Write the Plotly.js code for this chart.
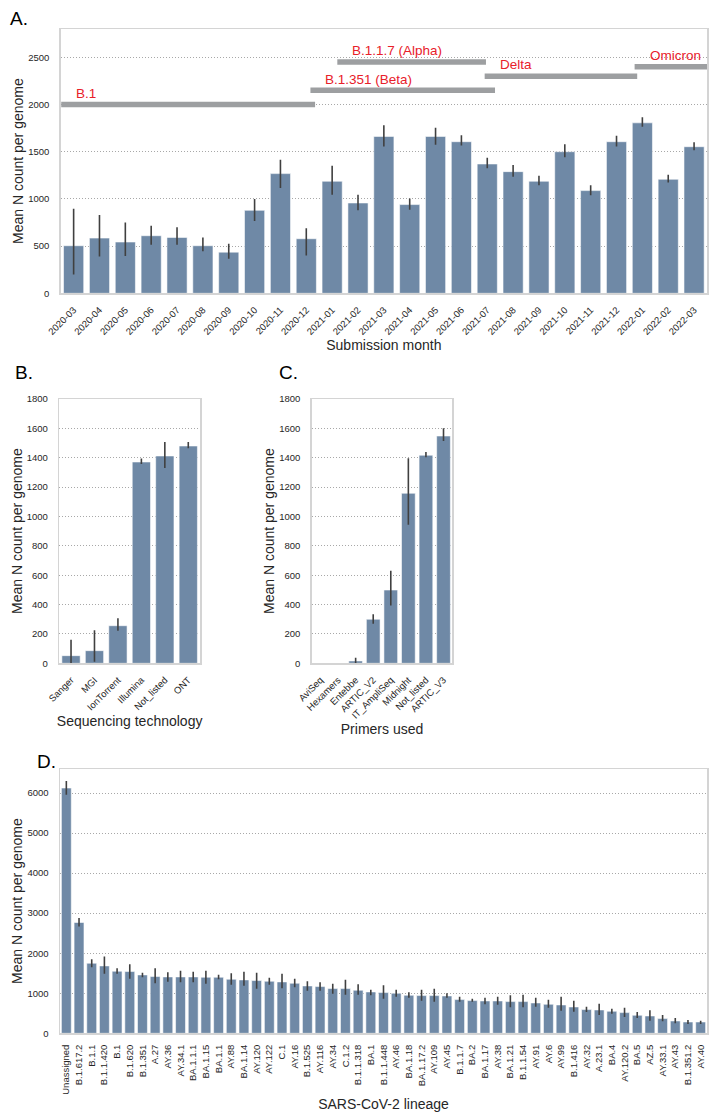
<!DOCTYPE html>
<html><head><meta charset="utf-8">
<script src="https://cdn.plot.ly/plotly-3.0.1.min.js"></script>
<style>html,body{margin:0;padding:0;background:#fff}</style>
</head><body><div id="chart" style="width:712px;height:1119px"></div>
<script>
// ---------- Panel A: submission month ----------
const months = ['2020-03','2020-04','2020-05','2020-06','2020-07','2020-08','2020-09','2020-10','2020-11','2020-12',
  '2021-01','2021-02','2021-03','2021-04','2021-05','2021-06','2021-07','2021-08','2021-09','2021-10','2021-11','2021-12',
  '2022-01','2022-02','2022-03'];
const monthMean = [504,585,543,610,592,504,436,879,1268,578,1187,957,1662,940,1662,1606,1370,1289,1187,1500,1088,1606,1806,1208,1553];
const monthLow  = [200,390,395,515,515,445,365,765,1115,400,1045,880,1555,885,1575,1565,1325,1235,1145,1440,1040,1555,1765,1175,1515];
const monthHigh = [895,830,750,715,700,590,525,1000,1415,690,1350,1045,1780,1005,1755,1675,1435,1360,1245,1580,1145,1670,1865,1255,1600];

// variant periods (in month-index units along the month axis)
const variantNames = ['B.1','B.1.351 (Beta)','B.1.1.7 (Alpha)','Delta','Omicron'];
const variantFrom  = [-0.48, 9.16, 10.2, 15.9, 21.7];
const variantTo    = [9.34, 16.3, 15.95, 21.8, 24.5];
const variantLevel = [2000, 2150, 2450, 2300, 2400];

// ---------- Panel B: sequencing technology ----------
const techs = ['Sanger','MGI','IonTorrent','Illumina','Not_listed','ONT'];
const techMean = [52,86,256,1371,1412,1480];
const techLow  = [0,10,222,1357,1330,1464];
const techHigh = [160,225,306,1394,1507,1507];

// ---------- Panel C: primers ----------
const primers = ['AviSeq','Hexamers','Entebbe','ARTIC_V2','IT_AmpliSeq','Midnight','Not_listed','ARTIC_V3'];
const primerMean = [0,0,16,300,499,1158,1417,1548];
const primerLow  = [0,0,0,270,393,944,1403,1514];
const primerHigh = [0,0,38,334,631,1396,1439,1600];

// ---------- Panel D: lineage ----------
const lineages = ['Unassigned','B.1.617.2','B.1.1','B.1.1.420','B.1','B.1.620','B.1.351','A.27','AY.36','AY.34.1',
  'BA.1.1.1','BA.1.15','BA.1.1','AY.88','BA.1.14','AY.120','AY.122','C.1','AY.16','B.1.525','AY.116','AY.34','C.1.2',
  'B.1.1.318','BA.1','B.1.1.448','AY.46','BA.1.18','BA.1.17.2','AY.109','AY.45','B.1.1.7','BA.2','BA.1.17','AY.38',
  'BA.1.21','B.1.1.54','AY.91','AY.6','AY.99','B.1.416','AY.32','A.23.1','BA.4','AY.120.2','BA.5','AZ.5','AY.33.1',
  'AY.43','B.1.351.2','AY.40'];
const lineageMean = [6125,2767,1750,1683,1550,1542,1458,1417,1408,1408,1408,1400,1400,1350,1333,1317,1300,1283,1250,1183,1167,1117,1117,
  1075,1033,1017,1000,950,942,942,933,842,817,808,808,792,792,758,725,708,658,592,583,550,517,450,433,367,308,283,283];
const lineageLow  = [5960,2670,1650,1485,1485,1360,1400,1250,1285,1275,1275,1240,1350,1210,1185,1115,1210,1125,1150,1065,1065,990,960,
  960,950,860,910,885,815,785,885,785,785,725,715,650,650,665,635,565,540,535,460,490,410,385,315,300,250,235,235];
const lineageHigh = [6300,2880,1850,1915,1625,1725,1515,1625,1525,1560,1535,1565,1465,1500,1535,1510,1390,1490,1360,1300,1275,1240,1335,
  1225,1090,1200,1085,1025,1085,1115,1000,915,865,890,910,950,960,885,835,910,810,665,735,615,635,535,575,460,385,335,315];

// ---------- styling ----------
const BAR = '#6f89a6';
const FONT = 'Liberation Sans, Arial, Helvetica, sans-serif';
const TXT = '#262626';
const W = 712, H = 1119;
const px = v => v / W, py = v => 1 - v / H;

function barTrace(x, mean, low, high, xa, ya) {
  return {
    type: 'bar', x: x, y: mean, xaxis: xa, yaxis: ya, showlegend: false,
    marker: {color: BAR, line: {color: 'rgba(255,255,255,0.7)', width: 0.8}},
    error_y: {type: 'data', symmetric: false,
      array: high.map((h, i) => h - mean[i]),
      arrayminus: mean.map((m, i) => m - low[i]),
      width: 0, thickness: 1.6, color: '#404040'}
  };
}

const traces = [
  barTrace(months.map((m, i) => i), monthMean, monthLow, monthHigh, 'x', 'y'),
  barTrace(techs, techMean, techLow, techHigh, 'x2', 'y2'),
  barTrace(primers, primerMean, primerLow, primerHigh, 'x3', 'y3'),
  barTrace(lineages, lineageMean, lineageLow, lineageHigh, 'x4', 'y4')
];
variantNames.forEach((n, i) => traces.push({
  type: 'scatter', mode: 'lines', x: [variantFrom[i], variantTo[i]], y: [variantLevel[i], variantLevel[i]],
  xaxis: 'x', yaxis: 'y', line: {color: '#9d9fa1', width: 5.5}, showlegend: false, hoverinfo: 'skip', name: n
}));

function xAxis(domain, extra) {
  return Object.assign({
    domain: domain, showline: true, mirror: true, linecolor: '#d4d4d4', linewidth: 1.5,
    showgrid: false, zeroline: false, ticks: 'outside', ticklen: 6, tickcolor: 'rgba(0,0,0,0)',
    tickfont: {family: FONT, size: 9.5, color: TXT}, tickangle: -45,
    title: {font: {family: FONT, size: 14, color: TXT}}
  }, extra);
}
function yAxis(domain, range, dtick, extra) {
  return Object.assign({
    domain: domain, range: range, dtick: dtick, showline: true, mirror: true, linecolor: '#d4d4d4', linewidth: 1.5,
    showgrid: true, gridcolor: '#a8a8a8', griddash: '1px,2px', gridwidth: 1, zeroline: false,
    ticks: 'outside', ticklen: 8, tickcolor: 'rgba(0,0,0,0)',
    tickfont: {family: FONT, size: 9.5, color: TXT},
    title: {text: 'Mean N count per genome', font: {family: FONT, size: 14, color: TXT}, standoff: 1}
  }, extra);
}

const yA = [py(293.3), py(29)], yBC = [py(663.3), py(399)], yD = [py(1033.3), py(769)];

const annotations = [];
variantNames.forEach((n, i) => annotations.push({
  xref: 'x', yref: 'y', x: variantFrom[i] + 0.5, y: variantLevel[i] + 120, text: n, showarrow: false,
  xanchor: 'left', yanchor: 'middle', font: {family: FONT, size: 13.5, color: '#e8202a'}
}));
[['A.', 8, 18], ['B.', 13, 372], ['C.', 277, 372], ['D.', 35, 761]].forEach(p => annotations.push({
  xref: 'paper', yref: 'paper', x: px(p[1]), y: py(p[2]), text: p[0], showarrow: false,
  xanchor: 'left', yanchor: 'middle', font: {family: FONT, size: 19, color: '#000'}
}));

const layout = {
  width: W, height: H, margin: {l: 0, r: 0, t: 0, b: 0},
  paper_bgcolor: '#fff', plot_bgcolor: '#fff', bargap: 0.22, showlegend: false,
  font: {family: FONT, color: TXT},
  xaxis: xAxis([px(60.7), px(707)], {range: [-0.5, 24.5], tickmode: 'array',
    tickvals: months.map((m, i) => i), ticktext: months,
    title: {text: 'Submission month', font: {family: FONT, size: 14, color: TXT}, standoff: 4}}),
  yaxis: yAxis(yA, [0, 2800], 500, {anchor: 'x'}),
  xaxis2: xAxis([px(59.3), px(200)], {anchor: 'y2', range: [-0.5, 5.5],
    title: {text: 'Sequencing technology', font: {family: FONT, size: 14, color: TXT}, standoff: 4}}),
  yaxis2: yAxis(yBC, [0, 1800], 200, {anchor: 'x2'}),
  xaxis3: xAxis([px(311.7), px(452.3)], {anchor: 'y3', range: [-0.5, 7.5],
    title: {text: 'Primers used', font: {family: FONT, size: 14, color: TXT}, standoff: 4}}),
  yaxis3: yAxis(yBC, [0, 1800], 200, {anchor: 'x3'}),
  xaxis4: xAxis([px(60), px(707)], {anchor: 'y4', range: [-0.5, 50.5], tickangle: -90,
    title: {text: 'SARS-CoV-2 lineage', font: {family: FONT, size: 14, color: TXT}, standoff: 5}}),
  yaxis4: yAxis(yD, [0, 6600], 1000, {anchor: 'x4'}),
  annotations: annotations
};

Plotly.newPlot('chart', traces, layout, {staticPlot: true, displayModeBar: false});
</script>
</body></html>
